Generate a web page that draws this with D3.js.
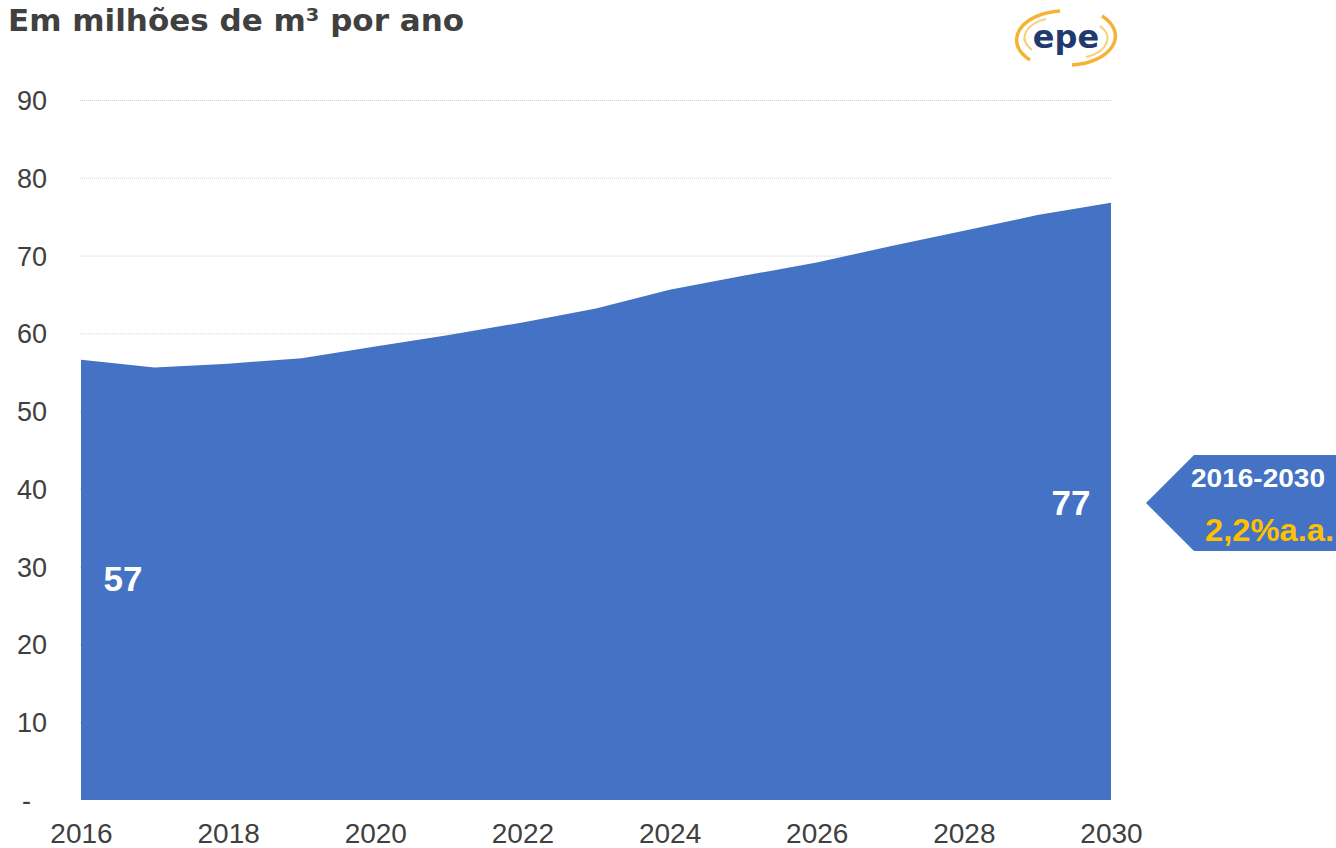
<!DOCTYPE html>
<html>
<head>
<meta charset="utf-8">
<script src="https://cdn.jsdelivr.net/npm/d3@7"></script>
<style>
  body { margin: 0; background: #fff; }
  svg { display: block; font-family: "Liberation Sans", Arial, sans-serif; }
</style>
</head>
<body>
<svg id="chart" width="1336" height="848"></svg>
<script>
// data
var years = [2016, 2017, 2018, 2019, 2020, 2021, 2022, 2023, 2024, 2025, 2026, 2027, 2028, 2029, 2030];
var volume = [56.6, 55.6, 56.1, 56.8, 58.3, 59.8, 61.4, 63.2, 65.6, 67.4, 69.1, 71.2, 73.2, 75.2, 76.8];
var xTicks = [2016, 2018, 2020, 2022, 2024, 2026, 2028, 2030];
var yTicks = [0, 10, 20, 30, 40, 50, 60, 70, 80, 90];
var endLabels = [{ year: 2016, text: '57' }, { year: 2030, text: '77' }];
var badgeLines = ['2016-2030', '2,2%a.a.'];

var svg = d3.select('#chart');
var x = d3.scaleLinear().domain([2016, 2030]).range([81, 1111]);
var y = d3.scaleLinear().domain([0, 90]).range([800, 100]);

// gridlines
svg.append('g').selectAll('line')
  .data(yTicks.filter(function (d) { return d > 0; }))
  .join('line')
  .attr('x1', 80).attr('x2', 1111)
  .attr('y1', function (d) { return y(d) + 0.5; })
  .attr('y2', function (d) { return y(d) + 0.5; })
  .attr('stroke', '#d0d0d0')
  .attr('stroke-dasharray', '1,1');

// area
var area = d3.area()
  .x(function (d, i) { return x(years[i]); })
  .y0(y(0))
  .y1(function (d) { return y(d); });
svg.append('path')
  .datum(volume)
  .attr('d', area)
  .attr('fill', '#4472C4');

// y axis labels
var yAxis = d3.axisLeft(y).tickValues(yTicks).tickSize(0).tickPadding(0)
  .tickFormat(function (d) { return d === 0 ? '-' : d; });
var gy = svg.append('g').attr('transform', 'translate(47,0)').call(yAxis);
gy.select('.domain').remove();
gy.selectAll('text')
  .attr('font-size', 27).attr('fill', '#404040')
  .attr('font-family', '"Liberation Sans", Arial, sans-serif')
  .attr('dy', '0.35em');
gy.selectAll('.tick').filter(function (d) { return d === 0; })
  .select('text').attr('dx', -16);

// x axis labels
var xAxis = d3.axisBottom(x).tickValues(xTicks).tickSize(0).tickPadding(0)
  .tickFormat(d3.format('d'));
var gx = svg.append('g').attr('transform', 'translate(0,823)').call(xAxis);
gx.select('.domain').remove();
gx.selectAll('text')
  .attr('font-size', 28).attr('fill', '#404040')
  .attr('font-family', '"Liberation Sans", Arial, sans-serif')
  .attr('dy', '0.71em');

// value labels on the area
svg.append('g').selectAll('text')
  .data(endLabels)
  .join('text')
  .attr('x', function (d) { return d.year === 2016 ? x(d.year) + 42 : x(d.year) - 40; })
  .attr('y', function (d) { return d.year === 2016 ? 591 : 515; })
  .attr('text-anchor', 'middle')
  .attr('font-size', 35).attr('font-weight', 'bold').attr('fill', '#fff')
  .text(function (d) { return d.text; });

// title
svg.append('text')
  .attr('x', 8).attr('y', 31)
  .attr('font-family', '"DejaVu Sans", Verdana, sans-serif')
  .attr('font-size', 31).attr('font-weight', 'bold').attr('fill', '#404040')
  .text('Em milhões de m³ por ano');

// growth badge
svg.append('path')
  .attr('d', 'M1146,503 L1194,455 L1336,455 L1336,551 L1194,551 Z')
  .attr('fill', '#4472C4');
svg.append('text')
  .attr('x', 1191).attr('y', 487)
  .attr('textLength', 134).attr('lengthAdjust', 'spacingAndGlyphs')
  .attr('font-size', 26).attr('font-weight', 'bold').attr('fill', '#fff')
  .text(badgeLines[0]);
svg.append('text')
  .attr('x', 1205).attr('y', 541)
  .attr('textLength', 129).attr('lengthAdjust', 'spacingAndGlyphs')
  .attr('font-size', 31).attr('font-weight', 'bold').attr('fill', '#FFC000')
  .text(badgeLines[1]);

// epe logo
var logo = svg.append('g').attr('transform', 'translate(1066,38)');
logo.append('path')
  .attr('d', 'M-6,-27 A48,29 0 0 0 -36,22')
  .attr('fill', 'none').attr('stroke', '#F5B335').attr('stroke-width', 3.5);
logo.append('path')
  .attr('d', 'M-20,-19 A34,20 0 0 0 -34,12')
  .attr('fill', 'none').attr('stroke', '#F9CF7A').attr('stroke-width', 2);
logo.append('path')
  .attr('d', 'M6,27 A48,29 0 0 0 36,-22')
  .attr('fill', 'none').attr('stroke', '#F5B335').attr('stroke-width', 3.5);
logo.append('path')
  .attr('d', 'M20,19 A34,20 0 0 0 34,-12')
  .attr('fill', 'none').attr('stroke', '#F9CF7A').attr('stroke-width', 2);
logo.append('text')
  .attr('x', 0).attr('y', 10)
  .attr('text-anchor', 'middle')
  .attr('font-family', '"DejaVu Sans", Verdana, sans-serif')
  .attr('font-size', 32).attr('font-weight', 'bold').attr('fill', '#1F3A6E')
  .text('epe');
</script>
</body>
</html>
